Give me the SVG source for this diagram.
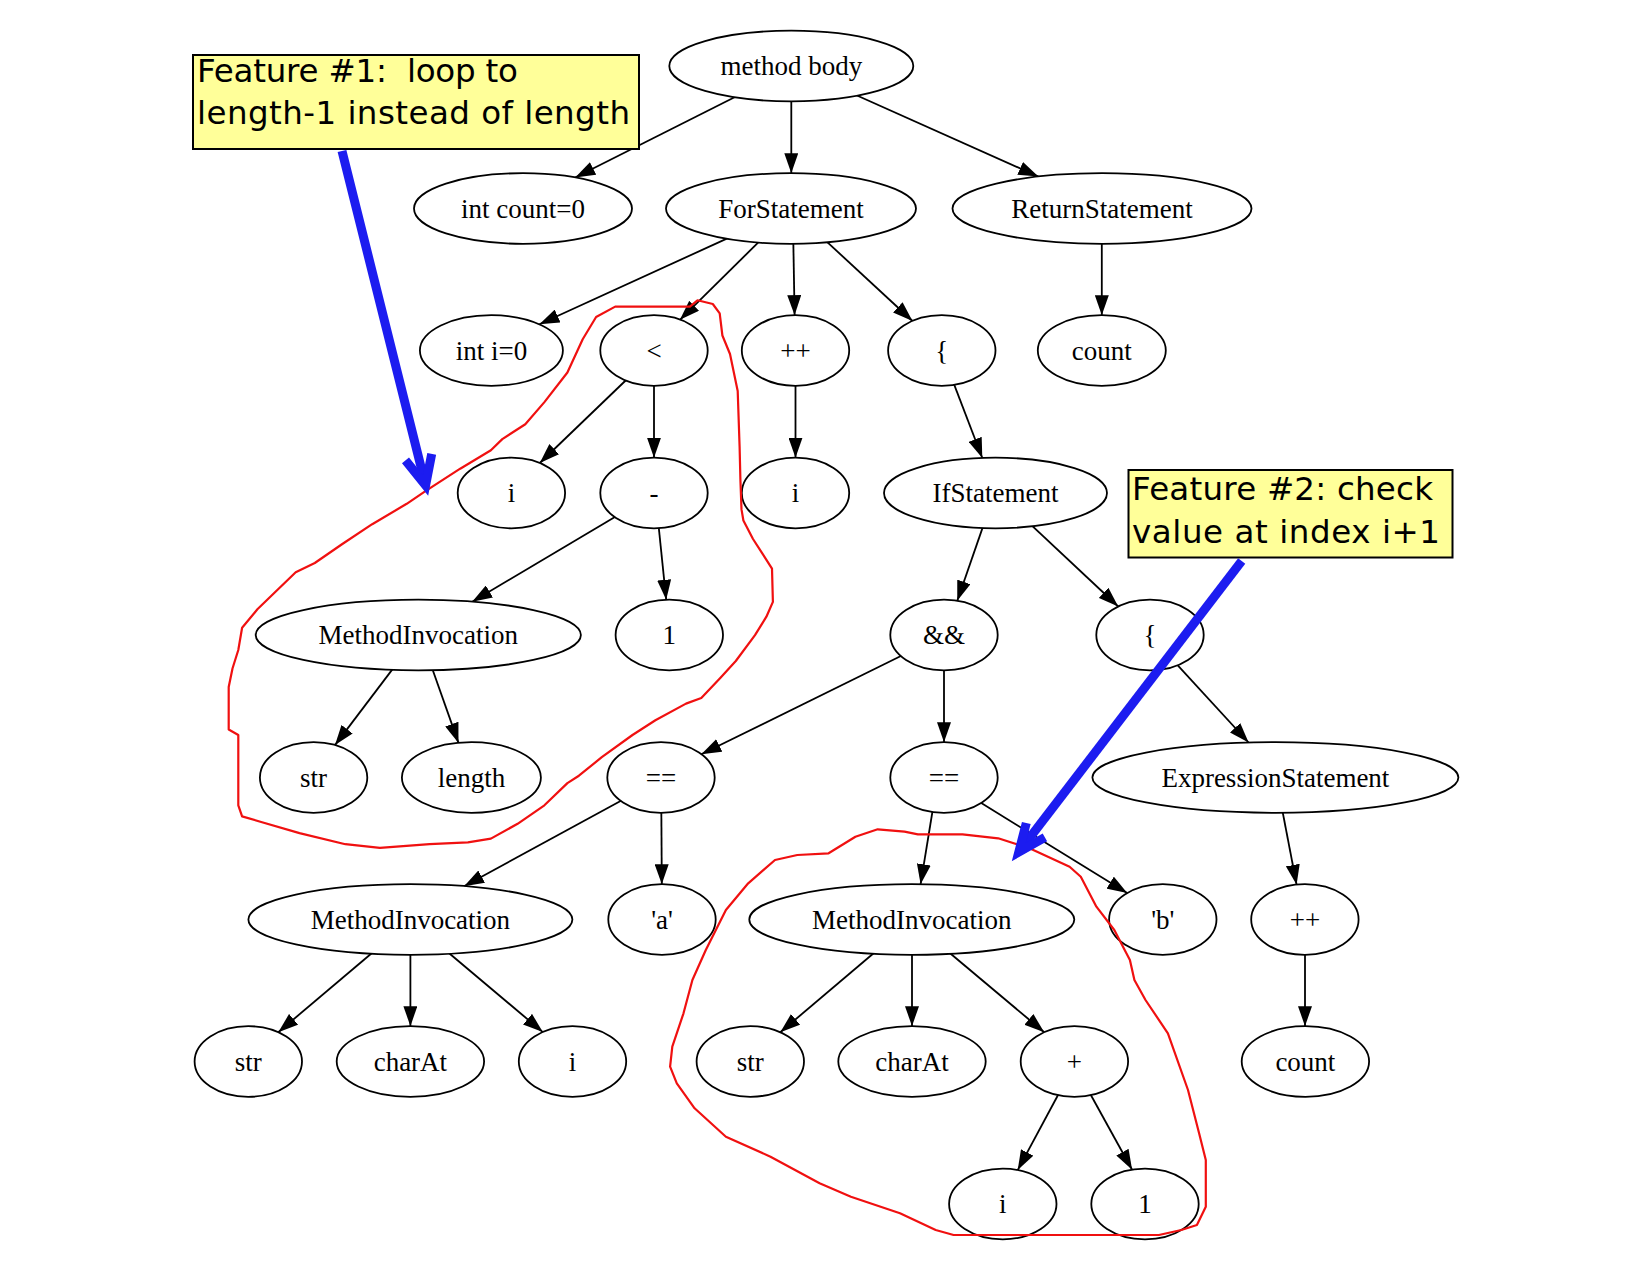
<svg xmlns="http://www.w3.org/2000/svg" width="1650" height="1275" viewBox="0 0 1650 1275">
<style>
.n ellipse{fill:#fff;stroke:#000;stroke-width:1.8}
.n text{font-family:"Liberation Serif","Times New Roman",serif;font-size:27px;text-anchor:middle;fill:#000}
.e line{stroke:#000;stroke-width:1.8;marker-end:url(#ah)}
.box rect{fill:#ffff99;stroke:#000;stroke-width:2}
.box text{font-family:"DejaVu Sans","Noto Sans",sans-serif;font-size:32.5px;fill:#000}
.blue{fill:none;stroke:#1c1cf0;stroke-width:9;stroke-linejoin:miter;stroke-miterlimit:6}
.red{fill:none;stroke:#f01010;stroke-width:2.2;stroke-linejoin:round}
</style>
<defs>
<marker id="ah" markerUnits="userSpaceOnUse" viewBox="0 0 20 14" markerWidth="20" markerHeight="14" refX="20" refY="7" orient="auto">
<path d="M0,0 L20,7 L0,14 z" fill="#000"/>
</marker>
</defs>
<rect width="1650" height="1275" fill="#fff"/>
<g id="connectors" class="e">
<line x1="740.5" y1="94.2" x2="575.2" y2="177.5"/>
<line x1="791.3" y1="92" x2="791.3" y2="173.2"/>
<line x1="850.3" y1="92.5" x2="1038.4" y2="176.6"/>
<line x1="733.4" y1="235.6" x2="539.4" y2="324.3"/>
<line x1="763.4" y1="237.4" x2="679.9" y2="319.8"/>
<line x1="793.2" y1="235" x2="794.6" y2="315.2"/>
<line x1="820.2" y1="235.6" x2="912.5" y2="321"/>
<line x1="1101.8" y1="235" x2="1101.8" y2="315.2"/>
<line x1="629.8" y1="376.5" x2="539.8" y2="463"/>
<line x1="654" y1="378" x2="654" y2="457.7"/>
<line x1="795.5" y1="378" x2="795.5" y2="457.7"/>
<line x1="951.5" y1="377.6" x2="982.3" y2="458"/>
<line x1="622.5" y1="512.6" x2="472.2" y2="601.7"/>
<line x1="657.9" y1="519.2" x2="666.2" y2="599.8"/>
<line x1="985.4" y1="519.6" x2="957.3" y2="600.8"/>
<line x1="1025.5" y1="519.6" x2="1118.2" y2="606.5"/>
<line x1="397.3" y1="662.9" x2="335" y2="745.1"/>
<line x1="429.8" y1="661.8" x2="458.5" y2="742.9"/>
<line x1="909" y1="652" x2="701.3" y2="754.3"/>
<line x1="944" y1="662" x2="944" y2="742.2"/>
<line x1="1171.1" y1="658.1" x2="1248.6" y2="742.5"/>
<line x1="627.9" y1="797" x2="464.1" y2="886.2"/>
<line x1="661.3" y1="805" x2="661.8" y2="884.2"/>
<line x1="933.6" y1="804.5" x2="920.6" y2="884.2"/>
<line x1="976" y1="799.8" x2="1127.2" y2="893.1"/>
<line x1="1281.2" y1="804.5" x2="1296.6" y2="884.7"/>
<line x1="377.6" y1="948.2" x2="278.3" y2="1032.2"/>
<line x1="410.4" y1="948" x2="410.4" y2="1026.2"/>
<line x1="443.2" y1="948.2" x2="542.8" y2="1032.1"/>
<line x1="879.5" y1="948.2" x2="780.3" y2="1032.3"/>
<line x1="912" y1="948" x2="912" y2="1026.2"/>
<line x1="944.1" y1="948.3" x2="1044.2" y2="1032.2"/>
<line x1="1305" y1="948" x2="1305" y2="1026.2"/>
<line x1="1061.4" y1="1088.7" x2="1017.7" y2="1170.1"/>
<line x1="1087.4" y1="1088.7" x2="1132.1" y2="1169.7"/>
</g>
<g id="n1" class="n"><ellipse cx="791.3" cy="66" rx="122" ry="35.3"/><text x="791.3" y="75">method body</text></g>
<g id="n2" class="n"><ellipse cx="523" cy="208.5" rx="109" ry="35.3"/><text x="523" y="217.5">int count=0</text></g>
<g id="n3" class="n"><ellipse cx="791" cy="208.5" rx="125" ry="35.3"/><text x="791" y="217.5">ForStatement</text></g>
<g id="n4" class="n"><ellipse cx="1102" cy="208.5" rx="149.5" ry="35.3"/><text x="1102" y="217.5">ReturnStatement</text></g>
<g id="n5" class="n"><ellipse cx="491.4" cy="350.5" rx="71.5" ry="35.3"/><text x="491.4" y="359.5">int i=0</text></g>
<g id="n6" class="n"><ellipse cx="654" cy="350.5" rx="53.7" ry="35.3"/><text x="654" y="359.5">&lt;</text></g>
<g id="n7" class="n"><ellipse cx="795.5" cy="350.5" rx="53.7" ry="35.3"/><text x="795.5" y="359.5">++</text></g>
<g id="n8" class="n"><ellipse cx="941.8" cy="350.5" rx="53.7" ry="35.3"/><text x="941.8" y="359.5">{</text></g>
<g id="n9" class="n"><ellipse cx="1101.8" cy="350.5" rx="64" ry="35.3"/><text x="1101.8" y="359.5">count</text></g>
<g id="n10" class="n"><ellipse cx="511.4" cy="493" rx="53.7" ry="35.3"/><text x="511.4" y="502">i</text></g>
<g id="n11" class="n"><ellipse cx="654" cy="493" rx="53.7" ry="35.3"/><text x="654" y="502">-</text></g>
<g id="n12" class="n"><ellipse cx="795.5" cy="493" rx="53.7" ry="35.3"/><text x="795.5" y="502">i</text></g>
<g id="n13" class="n"><ellipse cx="995.5" cy="493" rx="111.5" ry="35.3"/><text x="995.5" y="502">IfStatement</text></g>
<g id="n14" class="n"><ellipse cx="418.3" cy="635" rx="162.6" ry="35.3"/><text x="418.3" y="644">MethodInvocation</text></g>
<g id="n15" class="n"><ellipse cx="669.3" cy="635" rx="53.7" ry="35.3"/><text x="669.3" y="644">1</text></g>
<g id="n16" class="n"><ellipse cx="944" cy="635" rx="53.7" ry="35.3"/><text x="944" y="644">&amp;&amp;</text></g>
<g id="n17" class="n"><ellipse cx="1150" cy="635" rx="53.7" ry="35.3"/><text x="1150" y="644">{</text></g>
<g id="n18" class="n"><ellipse cx="313.6" cy="777.5" rx="53.7" ry="35.3"/><text x="313.6" y="786.5">str</text></g>
<g id="n19" class="n"><ellipse cx="471.4" cy="777.5" rx="69.5" ry="35.3"/><text x="471.4" y="786.5">length</text></g>
<g id="n20" class="n"><ellipse cx="661" cy="777.5" rx="53.7" ry="35.3"/><text x="661" y="786.5">==</text></g>
<g id="n21" class="n"><ellipse cx="944" cy="777.5" rx="53.7" ry="35.3"/><text x="944" y="786.5">==</text></g>
<g id="n22" class="n"><ellipse cx="1275.4" cy="777.5" rx="183" ry="35.3"/><text x="1275.4" y="786.5">ExpressionStatement</text></g>
<g id="n23" class="n"><ellipse cx="410.4" cy="919.5" rx="162" ry="35.3"/><text x="410.4" y="928.5">MethodInvocation</text></g>
<g id="n24" class="n"><ellipse cx="662" cy="919.5" rx="53.7" ry="35.3"/><text x="662" y="928.5">'a'</text></g>
<g id="n25" class="n"><ellipse cx="911.8" cy="919.5" rx="162.5" ry="35.3"/><text x="911.8" y="928.5">MethodInvocation</text></g>
<g id="n26" class="n"><ellipse cx="1162.8" cy="919.5" rx="53.7" ry="35.3"/><text x="1162.8" y="928.5">'b'</text></g>
<g id="n27" class="n"><ellipse cx="1304.9" cy="919.5" rx="53.7" ry="35.3"/><text x="1304.9" y="928.5">++</text></g>
<g id="n28" class="n"><ellipse cx="248.3" cy="1061.5" rx="53.7" ry="35.3"/><text x="248.3" y="1070.5">str</text></g>
<g id="n29" class="n"><ellipse cx="410.4" cy="1061.5" rx="73.7" ry="35.3"/><text x="410.4" y="1070.5">charAt</text></g>
<g id="n30" class="n"><ellipse cx="572.5" cy="1061.5" rx="53.7" ry="35.3"/><text x="572.5" y="1070.5">i</text></g>
<g id="n31" class="n"><ellipse cx="750.3" cy="1061.5" rx="53.7" ry="35.3"/><text x="750.3" y="1070.5">str</text></g>
<g id="n32" class="n"><ellipse cx="912" cy="1061.5" rx="73.7" ry="35.3"/><text x="912" y="1070.5">charAt</text></g>
<g id="n33" class="n"><ellipse cx="1074.4" cy="1061.5" rx="53.7" ry="35.3"/><text x="1074.4" y="1070.5">+</text></g>
<g id="n34" class="n"><ellipse cx="1305.4" cy="1061.5" rx="63.7" ry="35.3"/><text x="1305.4" y="1070.5">count</text></g>
<g id="n35" class="n"><ellipse cx="1002.8" cy="1204" rx="53.7" ry="35.3"/><text x="1002.8" y="1213">i</text></g>
<g id="n36" class="n"><ellipse cx="1145" cy="1204" rx="53.7" ry="35.3"/><text x="1145" y="1213">1</text></g>
<g id="highlight1"><path class="red" d="M615.2,306.6 L689.9,306.6 L697.5,300.3 L712.8,304 L719.7,313.3 L722.4,335.5 L730,354 L737.7,391 L739.6,446.5 L740.4,479.8 L741.5,509.4 L743.4,520.5 L753,539 L762.6,553.8 L772,568.6 L772.9,601.9 L766.4,616.7 L755,635.2 L735.8,661 L720.5,677.7 L701.3,698 L686,703.6 L655.4,720.3 L632.5,735 L601.8,757.2 L578.9,775.7 L567.4,783.1 L544.4,805.3 L517.6,823.8 L490.9,838.6 L467.9,842.3 L429.6,844.2 L379.9,847.9 L345.4,844.2 L299.5,833.1 L261.2,822 L242.1,816.4 L238.3,805.3 L238.3,735 L228.7,729.5 L228.7,687 L232.5,668.5 L238.3,650 L242.1,627.8 L257.4,609.3 L295.7,572.3 L314.8,563 L341.6,544.5 L372.2,524.2 L406.7,503.8 L425.8,490.9 L460.2,468.7 L490.9,450.2 L502.3,439.1 L525.3,424.3 L544.4,402.1 L567.4,372.5 L582.7,339.2 L596.1,317 Z"/></g>
<g id="highlight2"><path class="red" d="M877.7,829.3 L904.5,831.7 L917.9,834.3 L962.5,834.3 L998.2,838.3 L1029.5,848.3 L1069.6,866.7 L1080.8,876.7 L1096.4,906.7 L1114.3,930 L1129.9,960 L1134.4,980 L1145.5,1000 L1167.9,1033.3 L1188,1090 L1199.1,1133.3 L1205.8,1160 L1205.8,1206.7 L1196.9,1225 L1181.3,1230 L1158.9,1235 L953.6,1235 L935.7,1230 L900,1213.3 L850.9,1196.7 L819.6,1183.3 L770.5,1156.7 L725.9,1136.7 L694.6,1108.3 L676.8,1083.3 L670.1,1066.7 L672.3,1046.7 L683.5,1013.3 L692.4,980 L705.8,950 L725.9,910 L748.2,883.3 L775,860 L797.3,855 L828.6,853.3 L855.4,836.7 Z"/></g>
<g id="note1" class="box">
<rect x="193" y="55" width="446" height="94"/>
<text x="197" y="82" xml:space="preserve" textLength="321" lengthAdjust="spacing">Feature #1:  loop to</text>
<text x="197" y="124" textLength="433" lengthAdjust="spacing">length-1 instead of length</text>
</g>
<g id="note2" class="box">
<rect x="1128.5" y="470" width="324" height="87.5"/>
<text x="1132" y="500" textLength="301" lengthAdjust="spacing">Feature #2: check</text>
<text x="1132" y="543" textLength="308" lengthAdjust="spacing">value at index i+1</text>
</g>
<g id="pointer1"><path class="blue" d="M342,151 L425.6,485.3"/><path class="blue" d="M405.5,460.4 L425.6,485.3 L431.7,453.9"/></g>
<g id="pointer2"><path class="blue" d="M1241.7,561 L1018.8,852.1"/><path class="blue" d="M1026.3,823 L1018.8,852.1 L1044.9,837.3"/></g>
</svg>
